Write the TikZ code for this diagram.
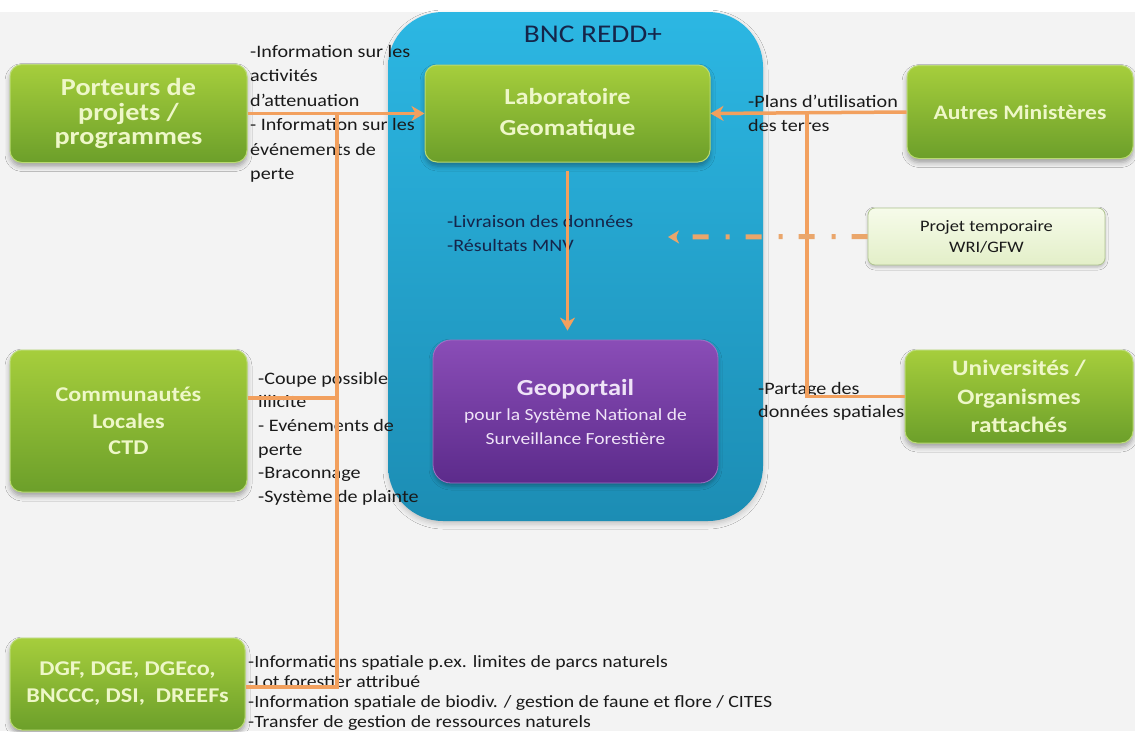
\documentclass[tikz,border=0pt]{standalone}
\usepackage{fontspec}
\setmainfont{Carlito}[FakeStretch=1.15]
\usetikzlibrary{arrows.meta,shadows.blur}

\definecolor{bggray}{HTML}{F3F3F3}
\definecolor{gtop}{HTML}{A6CE3C}
\definecolor{gbot}{HTML}{6C9F2A}
\definecolor{gedge}{HTML}{B9DA72}
\definecolor{gtext}{HTML}{EEF7C8}
\definecolor{btop}{HTML}{2CB7E3}
\definecolor{bbot}{HTML}{1C8DB4}
\definecolor{ptop}{HTML}{8A4DB7}
\definecolor{pbot}{HTML}{5C2B8B}
\definecolor{ptext}{HTML}{EFE3F7}
\definecolor{navy}{HTML}{15254A}
\definecolor{ink}{HTML}{1A1A1A}
\definecolor{orng}{HTML}{F2A05E}
\definecolor{orngpale}{HTML}{EAA66B}
\definecolor{ltop}{HTML}{F6FBEA}
\definecolor{lbot}{HTML}{E3EFC8}
\definecolor{ledge}{HTML}{AFC48F}

\tikzset{
  greenbox/.style={draw=gedge, line width=1pt, rounded corners=12pt,
    top color=gtop, bottom color=gbot, align=center, text=gtext,
    inner sep=0pt,
    blur shadow={shadow xshift=0pt, shadow yshift=-4pt, shadow blur radius=5pt, shadow opacity=35}},
  bluebox/.style={rounded corners=55pt, top color=btop, bottom color=bbot,
    inner sep=0pt,
    blur shadow={shadow xshift=0pt, shadow yshift=-3pt, shadow blur radius=5pt, shadow opacity=20}},
  purplebox/.style={draw=ptop!80!white, line width=0.8pt, rounded corners=18pt,
    top color=ptop, bottom color=pbot, align=center, text=ptext, inner sep=0pt,
    blur shadow={shadow xshift=0pt, shadow yshift=-3pt, shadow blur radius=4pt, shadow opacity=30}},
  lightbox/.style={draw=ledge, line width=0.8pt, rounded corners=7pt,
    top color=ltop, bottom color=lbot, align=center, text=ink, inner sep=0pt,
    font=\fontsize{16}{21}\selectfont,
    blur shadow={shadow xshift=0pt, shadow yshift=-2pt, shadow blur radius=3pt, shadow opacity=25}},
  lbl/.style={align=left, inner sep=0pt, text=ink, anchor=north west},
  conn/.style={draw=orng, line width=3.5pt},
  tip/.style={-{Stealth[length=13pt, width=15pt, inset=4pt]}},
  dashconn/.style={draw=orngpale, line width=5pt,
    dash pattern=on 16pt off 16pt on 4pt off 17pt,
    -{Stealth[length=11pt, width=13pt, inset=3pt]}}
}

\begin{document}
\begin{tikzpicture}[x=1pt,y=-1pt]
\useasboundingbox (0,0) rectangle (1135,731);
\fill[white] (0,0) rectangle (1135,731);
\fill[bggray] (0,12) rectangle (1135,731);

% central BNC REDD+ container
\node[bluebox, minimum width=375pt, minimum height=509pt] (bnc) at (575.5,266.5) {};
\node[text=navy, font=\fontsize{25.5}{30}\selectfont, inner sep=0pt] (bnctitle) at (593,34) {BNC REDD+};

% boxes
\node[greenbox, minimum width=237pt, minimum height=98pt,
      font=\bfseries\fontsize{24.5}{24.5}\selectfont] (porteurs) at (128.5,113.5)
      {Porteurs de\\projets /\\programmes};
\node[greenbox, minimum width=285pt, minimum height=97pt,
      font=\bfseries\fontsize{23}{31}\selectfont] (labo) at (567.5,113.5)
      {Laboratoire\\Geomatique};
\node[greenbox, minimum width=226pt, minimum height=93pt,
      font=\bfseries\fontsize{20.5}{24}\selectfont] (autres) at (1020,112)
      {Autres Ministères};
\node[lightbox, minimum width=237pt, minimum height=57pt] (projet) at (986.5,236.5)
      {Projet temporaire\\WRI/GFW};
\node[purplebox, minimum width=285pt, minimum height=143pt,
      font=\fontsize{17}{24}\selectfont] (geo) at (575.5,411.5)
      {{\bfseries\fontsize{23}{28}\selectfont Geoportail}\\[1pt]
       pour la Système National de\\Surveillance Forestière};
\node[greenbox, minimum width=237pt, minimum height=142pt,
      font=\bfseries\fontsize{21}{26.5}\selectfont] (commun) at (128.5,421)
      {Communautés\\Locales\\CTD};
\node[greenbox, minimum width=228pt, minimum height=93pt,
      font=\bfseries\fontsize{22}{28.5}\selectfont] (univ) at (1019,396.5)
      {Universités /\\Organismes\\rattachés};
\node[greenbox, minimum width=235pt, minimum height=92pt,
      font=\bfseries\fontsize{21}{27}\selectfont] (dgf) at (127.5,684)
      {DGF, DGE, DGEco,\\BNCCC, DSI,\ \ DREEFs};

% flow labels
\node[lbl, font=\fontsize{17.5}{24.5}\selectfont] (lblporteurs) at (250,45)
      {-Information sur les\\activités\\d’attenuation\\- Information sur les\\événements de\\perte};
\node[lbl, font=\fontsize{17.5}{24}\selectfont] (lblautres) at (748,95)
      {-Plans d’utilisation\\des terres};
\node[lbl, text=navy, font=\fontsize{17.5}{24}\selectfont] (lbllivraison) at (447,215)
      {-Livraison des données\\-Résultats MNV};
\node[lbl, font=\fontsize{17.5}{23}\selectfont] (lbluniv) at (758,382)
      {-Partage des\\données spatiales};
\node[lbl, font=\fontsize{17.5}{23.6}\selectfont] (lblcommun) at (258,372)
      {-Coupe possible\\illicite\\- Evénements de\\perte\\-Braconnage\\-Système de plainte};
\node[lbl, font=\fontsize{17.2}{20}\selectfont] (lbldgf) at (248,655)
      {-Informations spatiale p.ex. limites de parcs naturels\\-Lot forestier attribué\\-Information spatiale de biodiv. / gestion de faune et flore / CITES\\-Transfer de gestion de ressources naturels};

% junction points of the collecting lines
\coordinate (jl) at (337,113.5);
\coordinate (jr) at (807,113.5);
\coordinate (dashend) at (668,237);

% connectors
\draw[conn] ([yshift=23pt]commun.east) -- ([yshift=23pt]commun.east -| jl);
\draw[conn] (jl) |- ([yshift=-3pt]dgf.east);
\draw[conn] (jr) |- (univ.west);
\draw[conn, tip] (porteurs.east) -- (labo.west);
\draw[conn, tip] (autres.west) -- (labo.east);
\draw[conn, tip, shorten <=8pt, shorten >=9pt] (labo.south) -- (labo.south |- geo.north);
\draw[dashconn] (projet.west) -- (dashend);
\end{tikzpicture}
\end{document}
